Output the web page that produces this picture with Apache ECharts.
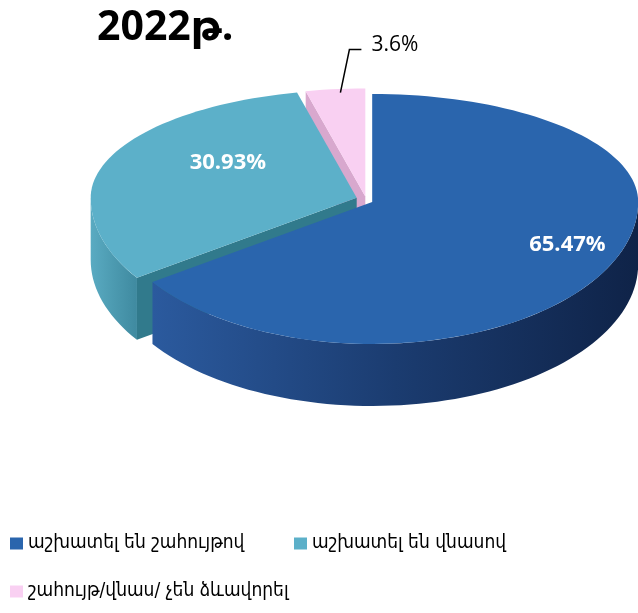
<!DOCTYPE html>
<html>
<head>
<meta charset="utf-8">
<script src="https://cdn.jsdelivr.net/npm/echarts@6/dist/echarts.min.js"></script>
<style>
  html, body { margin: 0; padding: 0; background: #fff; }
  #chart { width: 638px; height: 613px; }
</style>
</head>
<body>
<div id="chart"></div>
<script>
// chart data
const titleText = '2022թ.';
const categories = ['աշխատել են շահույթով', 'աշխատել են վնասով', 'շահույթ/վնաս/ չեն ձևավորել'];
const shares = [65.47, 30.93, 3.6];
const shareLabels = ['65.47%', '30.93%', '3.6%'];

// look of the 3d pie
const topColors = ['#2A65AD', '#5CB0C9', '#F9D0F2'];
const sideColors = [
  ['#2B5A9E', '#1B3C70', '#0F2348'],
  ['#5AABC2', '#4C9AB0', '#3F8AA0'],
  ['#E8BEE0', '#DCAED3', '#D2A3C9']
];
const cutColors = ['#1F4A86', '#317A8C', '#D8A8CE'];
const pie = { cx: 366, cy: 200, rx: 266, ryTop: 108, ryBot: 142, depth: 62 };
const explode = [7, 10, 6];
const labelRadius = [0.83, 0.52, 0.93];
const labelLift = [-12, -15, 0];
const labelOutside = [false, false, true];

const total = shares.reduce((s, v) => s + v, 0);
const startDeg = shares.map((v, i) => shares.slice(0, i).reduce((s, x) => s + x, 0) / total * 360);

function rad(d) { return d * Math.PI / 180; }

// angle is clockwise from 12 o'clock, f = fraction of radius
function onRim(deg, f, off, dz) {
  const s = Math.sin(rad(deg)), c = Math.cos(rad(deg));
  const ry = c > 0 ? pie.ryTop : pie.ryBot;
  return [pie.cx + off[0] + f * pie.rx * s, pie.cy + off[1] - f * ry * c + (dz || 0)];
}

function arc(a, b, off, dz) {
  const n = Math.max(2, Math.ceil((b - a) / 2));
  const pts = [];
  for (let k = 0; k <= n; k++) pts.push(onRim(a + (b - a) * k / n, 1, off, dz));
  return pts;
}

function sideFill(cols) {
  return {
    type: 'linear', x: 0, y: 0, x2: 1, y2: 0,
    colorStops: [
      { offset: 0, color: cols[0] },
      { offset: 0.5, color: cols[1] },
      { offset: 1, color: cols[2] }
    ]
  };
}

function makeRender(i) {
  return function (params, api) {
    const span = api.value(0) / total * 360;
    const a0 = startDeg[i], a1 = a0 + span;
    const mid = a0 + span / 2;
    const off = [explode[i] * Math.sin(rad(mid)), -explode[i] * Math.cos(rad(mid)) * 0.6];
    const children = [];
    const d = pie.depth;

    // outer wall (front half only)
    const s = Math.max(a0, 90), e = Math.min(a1, 270);
    if (e > s) {
      const pts = arc(s, e, off, 0).concat(arc(s, e, off, d).reverse());
      children.push({ type: 'polygon', shape: { points: pts }, style: { fill: sideFill(sideColors[i]) } });
    }
    // cut faces that face the viewer
    const c0 = onRim(0, 0, off);
    if (Math.sin(rad(a0)) < -1e-6) {
      const p = onRim(a0, 1, off);
      children.push({ type: 'polygon', shape: { points: [c0, p, [p[0], p[1] + d], [c0[0], c0[1] + d]] }, style: { fill: cutColors[i] } });
    }
    if (Math.sin(rad(a1)) > 1e-6) {
      const p = onRim(a1, 1, off);
      children.push({ type: 'polygon', shape: { points: [c0, p, [p[0], p[1] + d], [c0[0], c0[1] + d]] }, style: { fill: cutColors[i] } });
    }
    // top face
    children.push({
      type: 'polygon',
      shape: { points: [c0].concat(arc(a0, a1, off, 0)) },
      style: { fill: topColors[i] }
    });

    // label
    const lp = onRim(mid, labelRadius[i], off);
    if (!labelOutside[i]) {
      children.push({
        type: 'text',
        style: {
          x: lp[0], y: lp[1] + labelLift[i], text: shareLabels[i],
          fill: '#fff', font: 'bold 22px "Open Sans", sans-serif',
          align: 'center', verticalAlign: 'middle'
        }
      });
    } else {
      const a = [lp[0] + 3, lp[1] - 4];
      const p1 = [a[0] + 9, a[1] - 43];
      const p2 = [p1[0] + 12, p1[1]];
      children.push({ type: 'polyline', shape: { points: [a, p1, p2] }, style: { stroke: '#000', lineWidth: 1.5, fill: null } });
      children.push({
        type: 'text',
        style: {
          x: p2[0] + 10, y: p2[1] - 5, text: shareLabels[i],
          fill: '#000', font: '21px "Open Sans", sans-serif',
          align: 'left', verticalAlign: 'middle'
        }
      });
    }
    return { type: 'group', children: children };
  };
}

const legendText = { fontSize: 19, color: '#000', fontFamily: '"DejaVu Sans Condensed", "DejaVu Sans", sans-serif' };
const legendPos = [[10, 534], [294, 534], [10, 582]];

const chart = echarts.init(document.getElementById('chart'));
chart.setOption({
  animation: false,
  title: {
    text: titleText, left: 97, top: 8, padding: 0,
    textStyle: { fontSize: 41, fontWeight: 'bold', color: '#000', fontFamily: '"Open Sans", "DejaVu Sans", sans-serif' }
  },
  legend: categories.map((name, i) => ({
    data: [name], left: legendPos[i][0], top: legendPos[i][1], padding: 0,
    icon: 'rect', itemWidth: 13, itemHeight: 12, selectedMode: false,
    textStyle: legendText
  })),
  series: categories.map((name, i) => ({
    type: 'custom',
    name: name,
    coordinateSystem: 'none',
    z: 5 - i,
    silent: true,
    itemStyle: { color: topColors[i] },
    data: [[shares[i]]],
    renderItem: makeRender(i)
  }))
});
</script>
</body>
</html>
